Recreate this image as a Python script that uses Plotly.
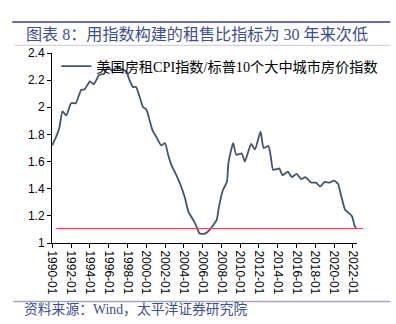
import plotly.graph_objects as go

# ---- data ----
dates = ["1990-01", "1990-05", "1990-10", "1991-02", "1991-07", "1992-01", "1992-07",
         "1993-02", "1993-06", "1994-01", "1994-06", "1995-01", "1995-07", "1995-12",
         "1996-05", "1996-11", "1997-07", "1997-12", "1998-03", "1998-08", "1998-12",
         "1999-05", "1999-09", "2000-01", "2000-06", "2000-09", "2001-02", "2001-08",
         "2002-01", "2002-05", "2002-09", "2003-01", "2003-08", "2004-02", "2004-07",
         "2005-01", "2005-06", "2005-09", "2006-03", "2006-08", "2007-01", "2007-07",
         "2007-10", "2008-03", "2008-08", "2008-10", "2009-04", "2009-08", "2010-03",
         "2010-07", "2011-03", "2011-08", "2012-03", "2012-07", "2013-01", "2013-04",
         "2013-07", "2013-12", "2014-03", "2014-07", "2015-02", "2015-07", "2016-01",
         "2016-07", "2016-12", "2017-08", "2018-02", "2018-07", "2019-01", "2019-07",
         "2020-01", "2020-06", "2020-09", "2021-03", "2021-08", "2021-12", "2022-03",
         "2022-05"]
ratio = [1.72, 1.77, 1.85, 1.97, 1.94, 2.03, 2.03,
         2.13, 2.13, 2.19, 2.17, 2.24, 2.245, 2.30,
         2.27, 2.29, 2.28, 2.26, 2.21, 2.15, 2.15,
         2.07, 2.00, 1.985, 1.89, 1.83, 1.78, 1.72,
         1.735, 1.65, 1.576, 1.53, 1.44, 1.34, 1.23,
         1.17, 1.11, 1.07, 1.068, 1.085, 1.12, 1.17,
         1.27, 1.39, 1.45, 1.59, 1.735, 1.65, 1.66,
         1.60, 1.73, 1.69, 1.82, 1.70, 1.715, 1.64,
         1.54, 1.545, 1.55, 1.50, 1.525, 1.485, 1.51,
         1.47, 1.485, 1.445, 1.445, 1.416, 1.45, 1.445,
         1.46, 1.436, 1.37, 1.245, 1.22, 1.195, 1.13,
         1.11]
threshold = 1.107
series_name = "美国房租CPI指数/标普10个大中城市房价指数"
title_text = "图表 8：用指数构建的租售比指标为 30 年来次低"
source_text = "资料来源：Wind，太平洋证券研究院"
y_ticks = [1, 1.2, 1.4, 1.6, 1.8, 2, 2.2, 2.4]

# ---- layout geometry (pixels) ----
W, H = 396, 324
L, R, T, B = 51.7, 356.7, 52.7, 243.3

def px_x(p):
    return (p - L) / (R - L)

def px_y(p):
    return 1 - (p - T) / (B - T)

SERIF_CJK = "Liberation Serif, Noto Sans CJK SC"
fig = go.Figure()
fig.add_trace(go.Scatter(
    x=dates, y=ratio, mode="lines", name=series_name,
    line=dict(color="#44546a", width=1.8, shape="spline", smoothing=0.5),
))

fig.add_shape(type="line", xref="paper", yref="y",
              x0=px_x(56), x1=px_x(362.7), y0=threshold, y1=threshold,
              line=dict(color="#e8474c", width=1.2))
# decorative report rules
fig.add_shape(type="line", xref="paper", yref="paper",
              x0=px_x(12), x1=px_x(390), y0=px_y(21.7), y1=px_y(21.7),
              line=dict(color="#6e6ea6", width=2))
fig.add_shape(type="line", xref="paper", yref="paper",
              x0=px_x(14), x1=px_x(390), y0=px_y(45), y1=px_y(45),
              line=dict(color="#c9c9dd", width=1))
fig.add_shape(type="line", xref="paper", yref="paper",
              x0=px_x(13), x1=px_x(390), y0=px_y(302), y1=px_y(302),
              line=dict(color="#a4a4c6", width=1.5))

fig.add_annotation(text=title_text, xref="paper", yref="paper",
                   x=px_x(24), y=px_y(34), xanchor="left", yanchor="middle",
                   showarrow=False, font=dict(family=SERIF_CJK, size=16.1, color="#3f4e8e"))
fig.add_annotation(text=source_text, xref="paper", yref="paper",
                   x=px_x(22), y=px_y(310), xanchor="left", yanchor="middle",
                   showarrow=False, font=dict(family=SERIF_CJK, size=13.8, color="#3f4e8e"))

fig.update_layout(
    width=W, height=H,
    margin=dict(l=L, r=W - R, t=T, b=H - B, pad=0),
    paper_bgcolor="white", plot_bgcolor="white",
    showlegend=True,
    legend=dict(x=px_x(56), y=px_y(50), xanchor="left", yanchor="top",
                bgcolor="rgba(0,0,0,0)", itemwidth=30,
                font=dict(family=SERIF_CJK, size=14.2, color="#000000")),
    xaxis=dict(type="date", range=["1989-12-20", "2022-06-08"],
               tick0="1990-01-01", dtick="M24", tickformat="%Y-%m",
               tickangle=90, ticks="outside", ticklen=4, tickcolor="black",
               showline=True, linecolor="black", linewidth=1,
               showgrid=False, zeroline=False,
               tickfont=dict(family="Liberation Sans, Arial", size=12, color="black")),
    yaxis=dict(range=[1, 2.4], tickvals=y_ticks,
               ticktext=[f"{v:g}" for v in y_ticks],
               ticks="outside", ticklen=4, tickcolor="black",
               showline=True, linecolor="black", linewidth=1,
               showgrid=False, zeroline=False,
               tickfont=dict(family="Liberation Sans, Arial", size=12, color="black")),
)

fig.write_html("out.html")
